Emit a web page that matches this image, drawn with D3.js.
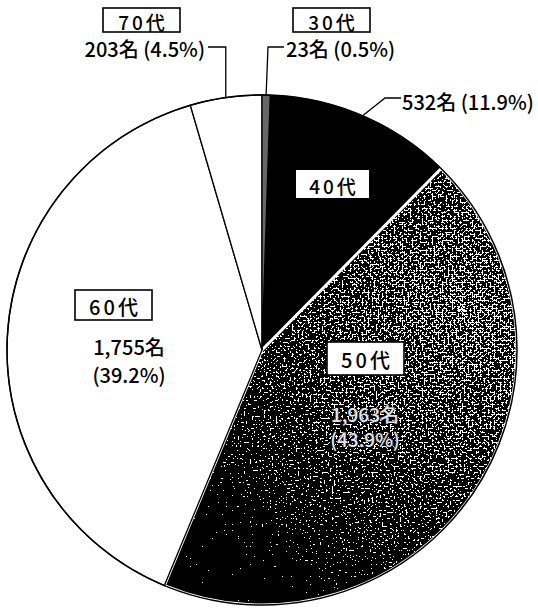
<!DOCTYPE html>
<html><head><meta charset="utf-8">
<script src="https://cdn.jsdelivr.net/npm/d3@7"></script>
<style>
html,body{margin:0;padding:0;background:#fff;}
svg{display:block;font-family:"Noto Sans CJK JP","Noto Sans",sans-serif;}
</style></head>
<body>
<svg id="chart" width="538" height="610"></svg>
<script>
// ---- data ----
const categories = ["30代", "40代", "50代", "60代", "70代"];
const counts = [23, 532, 1963, 1755, 203];
const percents = ["0.5%", "11.9%", "43.9%", "39.2%", "4.5%"];

// ---- layout ----
const W = 538, H = 610;
const cx = 262, cy = 350, R = 255;
const svg = d3.select("#chart");
const defs = svg.append("defs");

// speckle texture for the 50代 slice (coordinates local to the pie group)
const grad = defs.append("radialGradient").attr("id", "g50")
  .attr("gradientUnits", "userSpaceOnUse")
  .attr("cx", 200).attr("cy", -40).attr("r", 340);
grad.append("stop").attr("offset", 0).attr("stop-color", "#c4c4c4");
grad.append("stop").attr("offset", 0.35).attr("stop-color", "#a0a0a0");
grad.append("stop").attr("offset", 0.7).attr("stop-color", "#5a5a5a");
grad.append("stop").attr("offset", 1).attr("stop-color", "#101010");

const f = defs.append("filter").attr("id", "speckle")
  .attr("filterUnits", "userSpaceOnUse")
  .attr("x", -cx).attr("y", -cy).attr("width", W).attr("height", H)
  .attr("color-interpolation-filters", "sRGB");
f.append("feTurbulence").attr("type", "fractalNoise").attr("baseFrequency", 0.5)
  .attr("numOctaves", 3).attr("seed", 11).attr("result", "t");
f.append("feColorMatrix").attr("in", "t").attr("type", "matrix")
  .attr("values", "1 0 0 0 0  1 0 0 0 0  1 0 0 0 0  0 0 0 0 1").attr("result", "tg");
f.append("feComposite").attr("in", "tg").attr("in2", "SourceGraphic").attr("operator", "arithmetic")
  .attr("k1", 0).attr("k2", 1.4).attr("k3", 0.55).attr("k4", -0.62).attr("result", "sum");
const ct = f.append("feComponentTransfer").attr("in", "sum").attr("result", "thr");
["feFuncR", "feFuncG", "feFuncB"].forEach(n => ct.append(n).attr("type", "discrete").attr("tableValues", "0 1"));
ct.append("feFuncA").attr("type", "linear").attr("slope", 1).attr("intercept", 0);
f.append("feComposite").attr("in", "thr").attr("in2", "SourceGraphic").attr("operator", "in");

const fills = ["#666", "#000", "url(#g50)", "#fff", "#fff"];

const pie = d3.pie().sort(null).value(d => d);
const arcs = pie(counts);
const arc = d3.arc().innerRadius(0).outerRadius(R);
const rimArc = d3.arc().innerRadius(R).outerRadius(R);

const g = svg.append("g").attr("transform", `translate(${cx},${cy})`);

// draw order: 40, 50, 60, 70, 30
[1, 2, 3, 4, 0].forEach(i => {
  const a = arcs[i];
  const p = g.append("path").attr("d", arc(a)).attr("fill", fills[i]);
  if (i === 2) {
    p.attr("filter", "url(#speckle)").attr("stroke", "none");
    g.append("path").attr("d", arc(a)).attr("fill", "none")
      .attr("stroke", "#fff").attr("stroke-width", 3).attr("stroke-linejoin", "round");
  } else if (i === 1) {
    p.attr("stroke", "#000").attr("stroke-width", 1);
  } else {
    p.attr("stroke", "#000").attr("stroke-width", 1.3);
  }
});
// outer rim
g.append("circle").attr("r", R).attr("fill", "none").attr("stroke", "#000").attr("stroke-width", 1.5);

// ---- labels ----
const FS = 20;
function boxLabel(text, x, y, w, h, fs) {
  svg.append("rect").attr("x", x).attr("y", y).attr("width", w).attr("height", h)
    .attr("fill", "#fff").attr("stroke", "#000").attr("stroke-width", 1.6);
  svg.append("text").attr("x", x + w / 2 + 1.5).attr("y", y + h / 2 + 1)
    .attr("text-anchor", "middle").attr("dominant-baseline", "central")
    .attr("font-size", fs).attr("letter-spacing", 3).attr("font-weight", 500)
    .attr("fill", "#000").text(text);
}
const fmt = d3.format(",");
const countText = i => fmt(counts[i]) + "名";
const pctText = i => "(" + percents[i] + ")";
function label(x, y, anchor, t, fs) {
  return svg.append("text").attr("x", x).attr("y", y).attr("text-anchor", anchor)
    .attr("dominant-baseline", "central").attr("font-size", fs || FS)
    .attr("font-weight", 500).text(t);
}

// 70代 (outside, left-top)
boxLabel(categories[4], 103, 8, 77, 24, 19);
label(205, 48, "end", countText(4) + " " + pctText(4));
{
  const m = rimArc.centroid(arcs[4]);
  svg.append("path").attr("fill", "none").attr("stroke", "#000").attr("stroke-width", 1.3)
    .attr("d", d3.line()([[208, 47], [cx + m[0], 47], [cx + m[0], cy + m[1]]]));
}

// 30代 (outside, top)
boxLabel(categories[0], 293, 8, 77, 24, 19);
label(286, 48, "start", countText(0) + " " + pctText(0));
{
  const m = rimArc.centroid(arcs[0]);
  svg.append("path").attr("fill", "none").attr("stroke", "#000").attr("stroke-width", 1.3)
    .attr("d", d3.line()([[284, 47], [268, 47], [cx + m[0], cy + m[1]]]));
}

// 40代 : count outside right, box inside
label(402, 101, "start", countText(1) + " " + pctText(1));
{
  const m = rimArc.centroid(arcs[1]);
  svg.append("path").attr("fill", "none").attr("stroke", "#000").attr("stroke-width", 1.3)
    .attr("d", d3.line()([[cx + m[0], cy + m[1]], [385, 98], [401, 98]]));
}
svg.append("rect").attr("x", 296).attr("y", 170).attr("width", 73).attr("height", 28).attr("fill", "#fff");
svg.append("text").attr("x", 334).attr("y", 185).attr("text-anchor", "middle")
  .attr("dominant-baseline", "central").attr("font-size", 19)
  .attr("letter-spacing", 3).attr("font-weight", 500).text(categories[1]);

// 50代 : inside
boxLabel(categories[2], 327, 342, 77, 33, 20);
[[countText(2), 413], [pctText(2), 438]].forEach(([t, y]) => {
  label(365, y, "middle", t, 19)
    .attr("fill", "#e6e6e6").attr("stroke", "#111").attr("stroke-width", 1.2)
    .attr("paint-order", "stroke");
});

// 60代 : inside
boxLabel(categories[3], 75, 290, 77, 30, 20);
label(129, 346, "middle", countText(3));
label(129, 374, "middle", pctText(3));
</script>
</body></html>
